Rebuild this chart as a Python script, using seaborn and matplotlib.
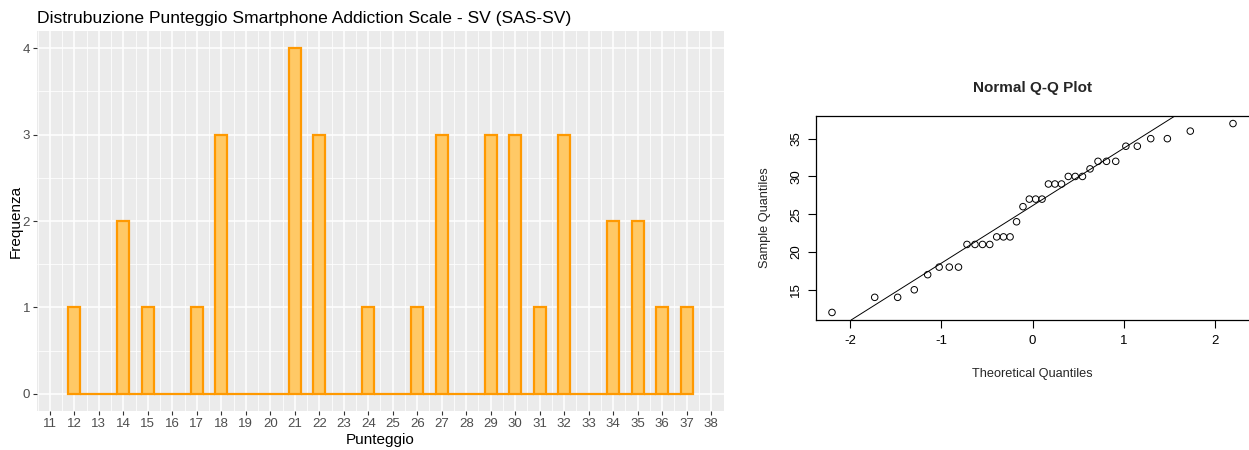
import numpy as np
import pandas as pd
import matplotlib
matplotlib.use("Agg")
import matplotlib.pyplot as plt
import seaborn as sns
from statistics import NormalDist

# ---- data ----
score_values = [12, 13, 14, 15, 16, 17, 18, 19, 20, 21, 22, 23, 24, 25,
                26, 27, 28, 29, 30, 31, 32, 33, 34, 35, 36, 37]
score_counts = [1, 0, 2, 1, 0, 1, 3, 0, 0, 4, 3, 0, 1, 0,
                1, 3, 0, 3, 3, 1, 3, 0, 2, 2, 1, 1]
x_ticks = list(range(11, 39))
y_ticks = [0, 1, 2, 3, 4]
qq_x_ticks = [-2, -1, 0, 1, 2]
qq_y_ticks = [15, 20, 25, 30, 35]

title_left = "Distrubuzione Punteggio Smartphone Addiction Scale - SV (SAS-SV)"
xlabel_left = "Punteggio"
ylabel_left = "Frequenza"
title_right = "Normal Q-Q Plot"
xlabel_right = "Theoretical Quantiles"
ylabel_right = "Sample Quantiles"

sns.set_style("white")
plt.rcParams['font.family'] = ['Liberation Sans', 'DejaVu Sans']
plt.rcParams['axes.unicode_minus'] = False

fig = plt.figure(figsize=(12.49, 4.5), dpi=100)

# ---------------- left: histogram (ggplot-like) ----------------
ax1 = fig.add_axes([37/1249, 1-411/450, (724-37)/1249, (411-31)/450])
ax1.set_facecolor("#EBEBEB")
df = pd.DataFrame({"score": score_values, "n": score_counts})
sns.histplot(data=df, x="score", weights="n", binwidth=0.5,
             binrange=(11.75, 37.25), color="#FFC966", alpha=1,
             edgecolor="#FF9900", linewidth=1.6, ax=ax1, zorder=3)
ax1.set_xlim(10.475, 38.525)
ax1.set_ylim(-0.2, 4.2)
ax1.set_xticks(x_ticks)
ax1.set_yticks(y_ticks)
ax1.set_xticks([t + 0.5 for t in x_ticks[:-1]] + [10.5], minor=True)
ax1.set_yticks([0.5, 1.5, 2.5, 3.5], minor=True)
ax1.grid(True, which="major", color="white", linewidth=1.1, zorder=0)
ax1.grid(True, which="minor", color="white", linewidth=0.55, zorder=0)
ax1.set_axisbelow(True)
for s in ax1.spines.values():
    s.set_visible(False)
ax1.tick_params(axis="both", which="major", bottom=True, left=True,
                length=3, width=0.8, color="#333333",
                labelsize=9.5, labelcolor="#4D4D4D", pad=2)
ax1.tick_params(axis="both", which="minor", length=0)
ax1.set_xlabel(xlabel_left, fontsize=11, color="black", labelpad=2)
ax1.set_ylabel(ylabel_left, fontsize=11, color="black", labelpad=0)
ax1.set_title(title_left, fontsize=12.6, loc="left", pad=6, color="black")

# ---------------- right: Normal Q-Q plot (base R-like) ----------------
ax2 = fig.add_axes([816/1249, 1-320/450, (1249-816)/1249, (320-116)/450])
ax2.set_facecolor("white")
sample = np.sort(np.repeat(score_values, score_counts))
n = len(sample)
probs = (np.arange(1, n + 1) - 0.5) / n
theo = np.array([NormalDist().inv_cdf(p) for p in probs])
sns.scatterplot(x=theo, y=sample, ax=ax2, marker="o", s=22,
                facecolor="none", edgecolor="black", linewidth=0.7, zorder=3)
q1, q3 = np.quantile(sample, [0.25, 0.75])
t1, t3 = NormalDist().inv_cdf(0.25), NormalDist().inv_cdf(0.75)
slope = (q3 - q1) / (t3 - t1)
intercept = q1 - slope * t1
ax2.axline((0, intercept), slope=slope, color="black", linewidth=0.7)
ax2.set_xlim(-2.376, 2.376)
ax2.set_ylim(11.0, 38.0)
ax2.set_xticks(qq_x_ticks)
ax2.set_yticks(qq_y_ticks)
ax2.set_yticklabels([str(v) for v in qq_y_ticks], rotation=90, va="center")
for name, s in ax2.spines.items():
    s.set_color("black")
    s.set_linewidth(0.9)
ax2.spines["right"].set_visible(False)
ax2.tick_params(axis="both", bottom=True, left=True, length=6, width=0.8,
                color="black", labelsize=9.5, labelcolor="black",
                direction="out")
ax2.tick_params(axis="x", pad=5)
ax2.tick_params(axis="y", pad=4)
ax2.set_xlabel(xlabel_right, fontsize=9.2, labelpad=15)
ax2.set_ylabel(ylabel_right, fontsize=9.2, labelpad=14)
ax2.set_title(title_right, fontsize=11, fontweight="bold", pad=17)
ax2.grid(False)

fig.savefig("out.png", dpi=100)
